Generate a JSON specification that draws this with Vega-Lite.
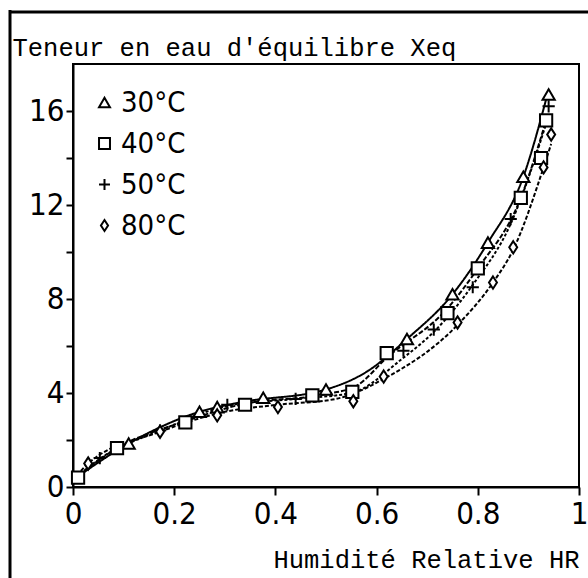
{
  "$schema": "https://vega.github.io/schema/vega-lite/v6.json",
  "autosize": "none",
  "width": 506,
  "height": 423,
  "padding": {"left": 73, "top": 64, "right": 9, "bottom": 91},
  "background": "white",
  "config": {
    "view": {"stroke": "black", "strokeWidth": 2},
    "axis": {
      "domainColor": "black", "domainWidth": 2, "tickColor": "black", "tickWidth": 2,
      "labelColor": "black", "titleColor": "black", "grid": false,
      "labelFont": "Liberation Sans Narrow, DejaVu Sans Condensed, Liberation Sans",
      "labelFontSize": 31,
      "titleFont": "Liberation Mono", "titleFontSize": 25.5, "titleFontWeight": "normal"
    }
  },
  "datasets": {
    "pts": [
      {"hr": 0.11, "x": 1.85, "t": "30°C"},
      {"hr": 0.25, "x": 3.2, "t": "30°C"},
      {"hr": 0.285, "x": 3.4, "t": "30°C"},
      {"hr": 0.376, "x": 3.8, "t": "30°C"},
      {"hr": 0.5, "x": 4.15, "t": "30°C"},
      {"hr": 0.66, "x": 6.3, "t": "30°C"},
      {"hr": 0.75, "x": 8.2, "t": "30°C"},
      {"hr": 0.82, "x": 10.4, "t": "30°C"},
      {"hr": 0.89, "x": 13.2, "t": "30°C"},
      {"hr": 0.94, "x": 16.7, "t": "30°C"},
      {"hr": 0.01, "x": 0.4, "t": "40°C"},
      {"hr": 0.087, "x": 1.65, "t": "40°C"},
      {"hr": 0.222, "x": 2.75, "t": "40°C"},
      {"hr": 0.34, "x": 3.5, "t": "40°C"},
      {"hr": 0.473, "x": 3.9, "t": "40°C"},
      {"hr": 0.552, "x": 4.05, "t": "40°C"},
      {"hr": 0.62, "x": 5.7, "t": "40°C"},
      {"hr": 0.74, "x": 7.4, "t": "40°C"},
      {"hr": 0.8, "x": 9.3, "t": "40°C"},
      {"hr": 0.885, "x": 12.3, "t": "40°C"},
      {"hr": 0.925, "x": 14.0, "t": "40°C"},
      {"hr": 0.935, "x": 15.6, "t": "40°C"},
      {"hr": 0.053, "x": 1.23, "t": "50°C"},
      {"hr": 0.172, "x": 2.4, "t": "50°C"},
      {"hr": 0.305, "x": 3.5, "t": "50°C"},
      {"hr": 0.44, "x": 3.75, "t": "50°C"},
      {"hr": 0.653, "x": 5.8, "t": "50°C"},
      {"hr": 0.713, "x": 6.7, "t": "50°C"},
      {"hr": 0.79, "x": 8.5, "t": "50°C"},
      {"hr": 0.865, "x": 11.4, "t": "50°C"},
      {"hr": 0.94, "x": 16.2, "t": "50°C"},
      {"hr": 0.03, "x": 1.0, "t": "80°C"},
      {"hr": 0.172, "x": 2.35, "t": "80°C"},
      {"hr": 0.285, "x": 3.05, "t": "80°C"},
      {"hr": 0.405, "x": 3.4, "t": "80°C"},
      {"hr": 0.554, "x": 3.65, "t": "80°C"},
      {"hr": 0.614, "x": 4.7, "t": "80°C"},
      {"hr": 0.76, "x": 7.0, "t": "80°C"},
      {"hr": 0.83, "x": 8.7, "t": "80°C"},
      {"hr": 0.87, "x": 10.2, "t": "80°C"},
      {"hr": 0.93, "x": 13.6, "t": "80°C"},
      {"hr": 0.945, "x": 15.0, "t": "80°C"}
    ],
    "curves": [
      {"hr": 0.0, "x": 0.3, "c": "30"},
      {"hr": 0.11, "x": 1.85, "c": "30"},
      {"hr": 0.25, "x": 3.2, "c": "30"},
      {"hr": 0.33, "x": 3.6, "c": "30"},
      {"hr": 0.5, "x": 4.15, "c": "30"},
      {"hr": 0.58, "x": 4.9, "c": "30"},
      {"hr": 0.66, "x": 6.3, "c": "30"},
      {"hr": 0.75, "x": 8.2, "c": "30"},
      {"hr": 0.82, "x": 10.4, "c": "30"},
      {"hr": 0.89, "x": 13.2, "c": "30"},
      {"hr": 0.94, "x": 16.9, "c": "30"},
      {"hr": 0.0, "x": 0.3, "c": "40"},
      {"hr": 0.087, "x": 1.65, "c": "40"},
      {"hr": 0.222, "x": 2.8, "c": "40"},
      {"hr": 0.34, "x": 3.55, "c": "40"},
      {"hr": 0.5, "x": 3.95, "c": "40"},
      {"hr": 0.56, "x": 4.3, "c": "40"},
      {"hr": 0.62, "x": 5.5, "c": "40"},
      {"hr": 0.74, "x": 7.6, "c": "40"},
      {"hr": 0.8, "x": 9.3, "c": "40"},
      {"hr": 0.885, "x": 12.3, "c": "40"},
      {"hr": 0.935, "x": 15.6, "c": "40"},
      {"hr": 0.0, "x": 0.3, "c": "50"},
      {"hr": 0.053, "x": 1.2, "c": "50"},
      {"hr": 0.172, "x": 2.4, "c": "50"},
      {"hr": 0.305, "x": 3.45, "c": "50"},
      {"hr": 0.44, "x": 3.75, "c": "50"},
      {"hr": 0.55, "x": 4.0, "c": "50"},
      {"hr": 0.653, "x": 5.5, "c": "50"},
      {"hr": 0.713, "x": 6.6, "c": "50"},
      {"hr": 0.79, "x": 8.6, "c": "50"},
      {"hr": 0.865, "x": 11.2, "c": "50"},
      {"hr": 0.94, "x": 15.8, "c": "50"},
      {"hr": 0.0, "x": 0.3, "c": "80"},
      {"hr": 0.03, "x": 1.0, "c": "80"},
      {"hr": 0.172, "x": 2.35, "c": "80"},
      {"hr": 0.3, "x": 3.2, "c": "80"},
      {"hr": 0.405, "x": 3.5, "c": "80"},
      {"hr": 0.52, "x": 3.75, "c": "80"},
      {"hr": 0.614, "x": 4.6, "c": "80"},
      {"hr": 0.76, "x": 6.9, "c": "80"},
      {"hr": 0.83, "x": 8.7, "c": "80"},
      {"hr": 0.87, "x": 10.1, "c": "80"},
      {"hr": 0.93, "x": 13.6, "c": "80"},
      {"hr": 0.945, "x": 14.6, "c": "80"}
    ],
    "frame": [
      {"fx": -0.1245, "fy": -5, "fx2": -0.1245, "fy2": 20.3},
      {"fx": -0.1245, "fy": 20.21, "fx2": 1.05, "fy2": 20.21}
    ]
  },
  "resolve": {"legend": {"shape": "independent", "strokeDash": "independent"}},
  "layer": [
    {
      "data": {"name": "frame"},
      "mark": {"type": "rule", "stroke": "black", "strokeWidth": 3},
      "encoding": {
        "x": {"field": "fx", "type": "quantitative", "scale": {"domain": [0, 1], "nice": false, "zero": false}},
        "x2": {"field": "fx2"},
        "y": {"field": "fy", "type": "quantitative", "scale": {"domain": [0, 18], "nice": false, "zero": false}},
        "y2": {"field": "fy2"}
      }
    },
    {
      "data": {"name": "curves"},
      "mark": {"type": "line", "stroke": "black", "strokeWidth": 2, "interpolate": "monotone"},
      "encoding": {
        "x": {"field": "hr", "type": "quantitative"},
        "y": {"field": "x", "type": "quantitative"},
        "detail": {"field": "c", "type": "nominal"},
        "strokeDash": {"field": "c", "type": "nominal", "legend": null,
          "scale": {"domain": ["30", "40", "50", "80"], "range": [[1, 0], [5, 2], [3, 2], [4, 2]]}}
      }
    },
    {
      "data": {"name": "pts"},
      "mark": {"type": "point", "filled": false, "fill": "white", "color": "black", "stroke": "black", "strokeWidth": 2, "size": 150, "opacity": 1},
      "encoding": {
        "x": {
          "field": "hr", "type": "quantitative",
          "axis": {
            "values": [0, 0.2, 0.4, 0.6, 0.8, 1], "format": ".1~f", "tickSize": 8,
            "labelPadding": 4, "labelFlush": false,
            "title": "Humidité Relative HR", "titleX": 506, "titleY": 80,
            "titleAlign": "right", "titleBaseline": "alphabetic", "titleAnchor": null
          }
        },
        "y": {
          "field": "x", "type": "quantitative",
          "axis": {
            "values": [0, 1, 2, 3, 4, 5, 6, 7, 8, 9, 10, 11, 12, 13, 14, 15, 16, 17],
            "labelExpr": "datum.value % 4 === 0 ? datum.label : ''",
            "tickSize": 7, "labelPadding": 2, "labelFlush": false,
            "title": "Teneur en eau d'équilibre Xeq", "titleAngle": 0,
            "titleX": -61, "titleY": -9, "titleAlign": "left", "titleBaseline": "alphabetic"
          }
        },
        "shape": {
          "field": "t", "type": "nominal",
          "scale": {"domain": ["30°C", "40°C", "50°C", "80°C"],
            "range": ["triangle-up", "square", "M-1,0L1,0M0,-1L0,1", "M0,-1L0.65,0L0,1L-0.65,0Z"]},
          "legend": {
            "title": null, "orient": "none", "legendX": 17, "legendY": 24,
            "symbolSize": 120, "symbolStrokeWidth": 2,
            "labelFont": "Liberation Sans Narrow, DejaVu Sans Condensed, Liberation Sans",
            "labelFontSize": 29, "labelColor": "black", "labelOffset": 2, "rowPadding": 11
          }
        }
      }
    }
  ]
}
